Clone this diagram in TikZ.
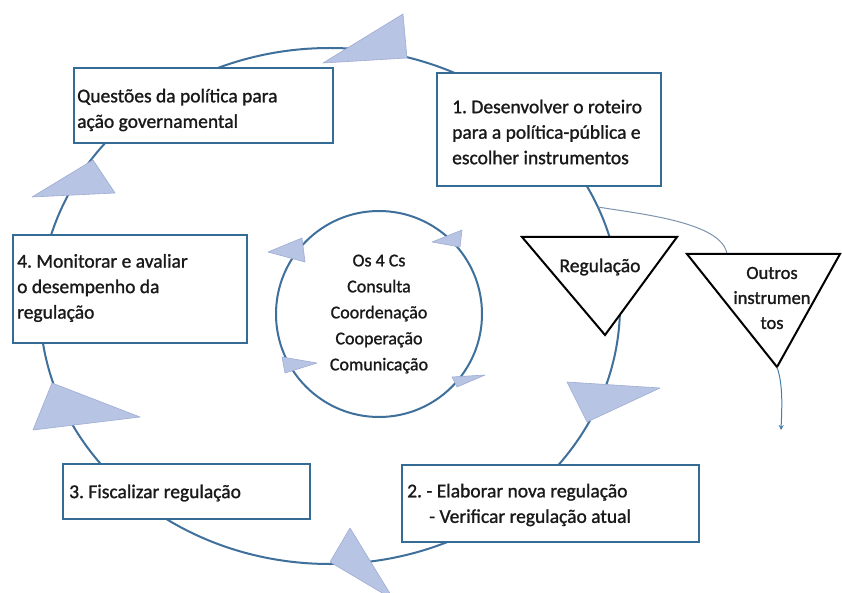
\documentclass[tikz,border=0pt]{standalone}
\usepackage{fontspec}
\setmainfont{Carlito}[RawFeature={embolden=1.2}]
\usetikzlibrary{arrows.meta}
\definecolor{cycleblue}{RGB}{62,112,155}
\definecolor{boxblue}{RGB}{52,108,150}
\definecolor{headfill}{RGB}{184,196,228}
\definecolor{headedge}{RGB}{158,172,212}
\definecolor{txt}{RGB}{25,25,25}
\definecolor{branchgray}{RGB}{125,148,172}
\definecolor{endblue}{RGB}{70,125,175}
\begin{document}
\frenchspacing
\begin{tikzpicture}[x=1pt,y=-1pt,
  stagebox/.style={draw=boxblue, line width=2pt, fill=white, inner sep=0pt},
  boxtext/.style={anchor=west, align=left, inner sep=0pt, text=txt,
    font=\fontsize{19.5}{25.5}\selectfont},
  headtri/.style={fill=headfill, draw=headedge, line width=0.6pt, line join=round},
  cycleline/.style={draw=cycleblue, line width=2pt},
  instr/.style={draw=black, line width=2pt, fill=white, line join=miter},
  instrtext/.style={text=txt, align=center, inner sep=0pt},
  branchline/.style={draw=branchgray, line width=1pt}]
\useasboundingbox (0,0) rectangle (842,593);
\clip (0,0) rectangle (842,593);
\fill[white] (0,0) rectangle (842,593);

% main cycle
\draw[cycleline] (330,306) ellipse [x radius=290, y radius=258];

% arrow heads on the main cycle
\draw[headtri] (323,63) -- (403,14) -- (407,58) -- cycle;
\draw[headtri] (32,197) -- (93,160) -- (115,193) -- cycle;
\draw[headtri] (52,383) -- (33,430) -- (140,417) -- cycle;
\draw[headtri] (350,528) -- (330,562) -- (394,600) -- cycle;
\draw[headtri] (567,382) -- (660,388) -- (587,422) -- cycle;

% stage boxes
\node[stagebox, minimum width=259pt, minimum height=75pt] (q) at (203.5,105.5) {};
\node[boxtext] (qt) at (77,110) {Questões da política para\\ação governamental};
\node[stagebox, minimum width=224pt, minimum height=113pt] (s1) at (549,129.5) {};
\node[boxtext] (s1t) at (452,132) {1. Desenvolver o roteiro\\para a política-pública e\\escolher instrumentos};
\node[stagebox, minimum width=234pt, minimum height=108pt] (s4) at (130,289) {};
\node[boxtext] (s4t) at (17,288) {4. Monitorar e avaliar\\o desempenho da\\regulação};
\node[stagebox, minimum width=247pt, minimum height=55pt] (s3) at (186.5,491.5) {};
\node[boxtext] (s3t) at (69,493) {3. Fiscalizar regulação};
\node[stagebox, minimum width=297pt, minimum height=77pt] (s2) at (550.5,503.5) {};
\node[boxtext] (s2t) at (407,505) {2. - Elaborar nova regulação\\\hspace*{22pt}- Verificar regulação atual};

% branch to other instruments
\coordinate (branch) at (598,207);
\coordinate (outTop) at (727,254);
\draw[branchline] (branch) .. controls (640,214) and (722,222) .. (outTop);

% instrument triangles
\coordinate (regA) at (522,237);
\coordinate (regB) at (677,237);
\coordinate (regC) at (605,335);
\draw[instr] (regA) -- (regB) -- (regC) -- cycle;
\node[instrtext, font=\fontsize{19.5}{25}\selectfont] (reg) at (600,267) {Regulação};

\coordinate (outA) at (687,254);
\coordinate (outB) at (840,254);
\coordinate (outC) at (777,367);
\draw[instr] (outA) -- (outB) -- (outC) -- cycle;
\node[instrtext, font=\fontsize{18.5}{25}\selectfont] (out) at (772,298) {Outros\\instrumen\\tos};

\coordinate (outEnd) at (781,430);
\draw[draw=endblue, line width=1pt, -{Stealth[length=5pt,width=5pt]}]
  (outC) .. controls (783,385) and (782,405) .. (outEnd);

% the 4 Cs circle
\node[circle, draw=cycleblue, line width=2pt, minimum size=206pt, inner sep=0pt,
  align=center, text=txt, font=\fontsize{18}{26}\selectfont]
  (cs) at (379,314) {Os 4 Cs\\Consulta\\Coordenação\\Cooperação\\Comunicação};
\draw[headtri] (268,252) -- (302,238) -- (305,262) -- cycle;
\draw[headtri] (432,242) -- (462,230) -- (460,247) -- cycle;
\draw[headtri] (282,357) -- (285,373) -- (317,363) -- cycle;
\draw[headtri] (452,377) -- (485,375) -- (457,387) -- cycle;
\end{tikzpicture}
\end{document}
